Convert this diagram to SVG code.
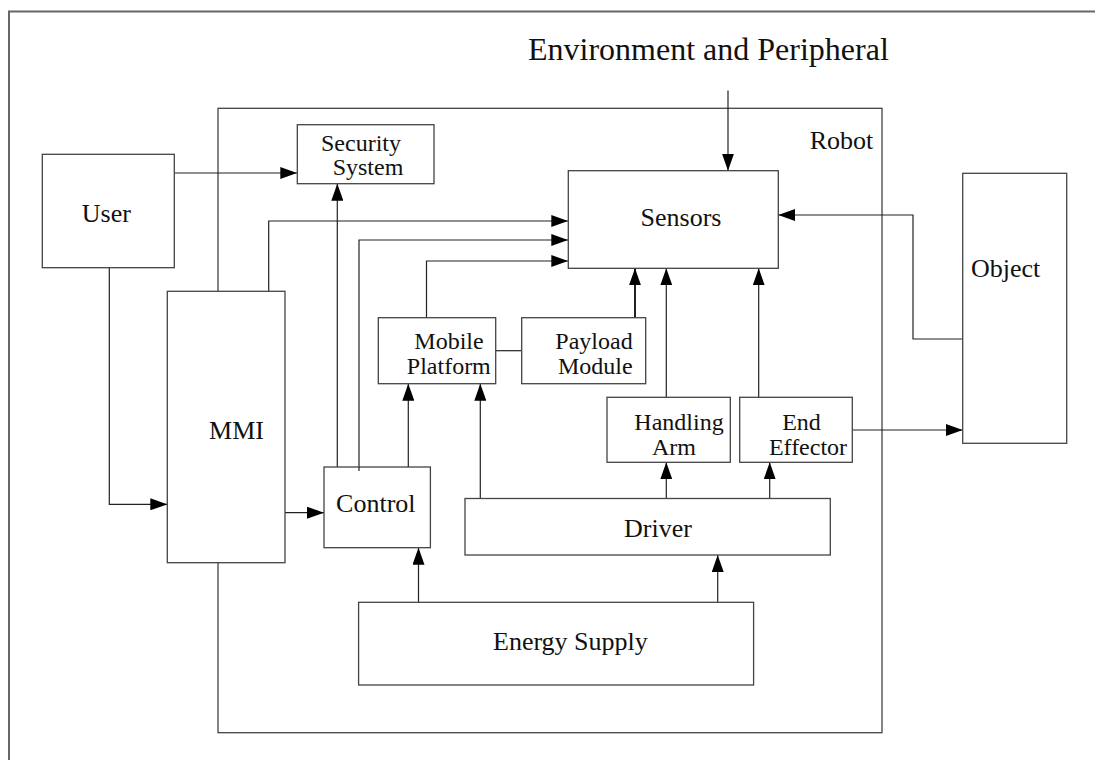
<svg xmlns="http://www.w3.org/2000/svg" width="1095" height="760" viewBox="0 0 1095 760">
  <style>
    .frame { fill: none; stroke: #666; stroke-width: 2; }
    .box { fill: #fff; stroke: #444; stroke-width: 1.3; }
    .wire { fill: none; stroke: #222; stroke-width: 1.2; }
    .wire.heavy { stroke-width: 2; }
    .label { font-family: "Liberation Serif", "Times New Roman", serif; font-size: 26px; fill: #111; text-anchor: middle; }
    .label.two { font-size: 24px; }
    .title { font-family: "Liberation Serif", "Times New Roman", serif; font-size: 32px; fill: #111; }
  </style>
  <defs>
    <marker id="arrow" viewBox="0 0 17 12" refX="17" refY="6" markerWidth="17" markerHeight="12" markerUnits="userSpaceOnUse" orient="auto">
      <path d="M0,0 L17,6 L0,12 Z" fill="#000"/>
    </marker>
  </defs>

  <rect width="1095" height="760" fill="#fff"/>

  <!-- page frame (open to the right and bottom) -->
  <path class="frame" d="M9,760 V11.5 H1095"/>

  <!-- title -->
  <text class="title" x="528" y="60">Environment and Peripheral</text>

  <!-- robot boundary -->
  <g id="robot">
    <rect x="218" y="108.3" width="664" height="624.4" fill="none" stroke="#444" stroke-width="1.3"/>
    <text class="label" x="841.5" y="149.3">Robot</text>
  </g>

  <!-- connectors -->
  <g id="connectors">
    <line class="wire" x1="728" y1="90.5" x2="728" y2="170.7" marker-end="url(#arrow)"/>
    <line class="wire" x1="174.3" y1="173" x2="297.3" y2="173" marker-end="url(#arrow)"/>
    <polyline class="wire" points="109.3,267.7 109.3,504.3 167.3,504.3" marker-end="url(#arrow)"/>
    <line class="wire" x1="285" y1="512.7" x2="324" y2="512.7" marker-end="url(#arrow)"/>
    <polyline class="wire" points="268.7,291.3 268.7,221 568.3,221" marker-end="url(#arrow)"/>
    <line class="wire" x1="337.3" y1="467" x2="337.3" y2="183.7" marker-end="url(#arrow)"/>
    <polyline class="wire" points="359,471 359,240 568.3,240" marker-end="url(#arrow)"/>
    <line class="wire" x1="408.3" y1="467" x2="408.3" y2="383.7" marker-end="url(#arrow)"/>
    <polyline class="wire" points="426.5,317.7 426.5,261 568.3,261" marker-end="url(#arrow)"/>
    <line class="wire" x1="495.7" y1="350.7" x2="521.7" y2="350.7"/>
    <line class="wire heavy" x1="635" y1="317.7" x2="635" y2="268.3" marker-end="url(#arrow)"/>
    <line class="wire" x1="666.3" y1="397.3" x2="666.3" y2="268.3" marker-end="url(#arrow)"/>
    <line class="wire" x1="758.7" y1="397.3" x2="758.7" y2="268.3" marker-end="url(#arrow)"/>
    <polyline class="wire" points="962.7,339 913,339 913,215 778.3,215" marker-end="url(#arrow)"/>
    <line class="wire" x1="852.3" y1="430" x2="962.7" y2="430" marker-end="url(#arrow)"/>
    <line class="wire" x1="480.3" y1="498.5" x2="480.3" y2="383.7" marker-end="url(#arrow)"/>
    <line class="wire" x1="666.3" y1="498.5" x2="666.3" y2="462.3" marker-end="url(#arrow)"/>
    <line class="wire" x1="769.7" y1="498.5" x2="769.7" y2="462.3" marker-end="url(#arrow)"/>
    <line class="wire" x1="418.5" y1="602.3" x2="418.5" y2="547.7" marker-end="url(#arrow)"/>
    <line class="wire" x1="717.7" y1="602.3" x2="717.7" y2="555" marker-end="url(#arrow)"/>
  </g>

  <!-- nodes -->
  <g id="user">
    <rect class="box" x="42.3" y="154.3" width="132" height="113.4"/>
    <text class="label" x="106.3" y="222.3">User</text>
  </g>
  <g id="security-system">
    <rect class="box" x="297.3" y="124.7" width="136.7" height="59"/>
    <text class="label two" x="361" y="151">Security</text>
    <text class="label two" x="368" y="174.5">System</text>
  </g>
  <g id="sensors">
    <rect class="box" x="568.3" y="170.7" width="210" height="97.6"/>
    <text class="label" x="681" y="225.7">Sensors</text>
  </g>
  <g id="object">
    <rect class="box" x="962.7" y="173.3" width="104" height="270"/>
    <text class="label" x="1005.7" y="276.7">Object</text>
  </g>
  <g id="mmi">
    <rect class="box" x="167.3" y="291.3" width="117.7" height="271.4"/>
    <text class="label" x="236.5" y="438.7">MMI</text>
  </g>
  <g id="mobile-platform">
    <rect class="box" x="378.3" y="317.7" width="117.4" height="66"/>
    <text class="label two" x="449" y="349.3">Mobile</text>
    <text class="label two" x="448.8" y="374">Platform</text>
  </g>
  <g id="payload-module">
    <rect class="box" x="521.7" y="317.7" width="124" height="66"/>
    <text class="label two" x="594" y="349.3">Payload</text>
    <text class="label two" x="595.3" y="374">Module</text>
  </g>
  <g id="handling-arm">
    <rect class="box" x="607" y="397.3" width="123.3" height="65"/>
    <text class="label two" x="679" y="430">Handling</text>
    <text class="label two" x="674" y="454.5">Arm</text>
  </g>
  <g id="end-effector">
    <rect class="box" x="739.7" y="397.3" width="112.6" height="65"/>
    <text class="label two" x="801.5" y="429.5">End</text>
    <text class="label two" x="808" y="454.5">Effector</text>
  </g>
  <g id="control">
    <rect class="box" x="324" y="467" width="106.4" height="80.7"/>
    <text class="label" x="375.8" y="511.7">Control</text>
  </g>
  <g id="driver">
    <rect class="box" x="465" y="498.5" width="365.3" height="56.5"/>
    <text class="label" x="658" y="537">Driver</text>
  </g>
  <g id="energy-supply">
    <rect class="box" x="358.6" y="602.3" width="395" height="82.7"/>
    <text class="label" x="570.4" y="650">Energy Supply</text>
  </g>

  <!-- line from Control into Sensors starts slightly inside the Control box -->
  <line class="wire" x1="359" y1="467" x2="359" y2="471"/>
</svg>
